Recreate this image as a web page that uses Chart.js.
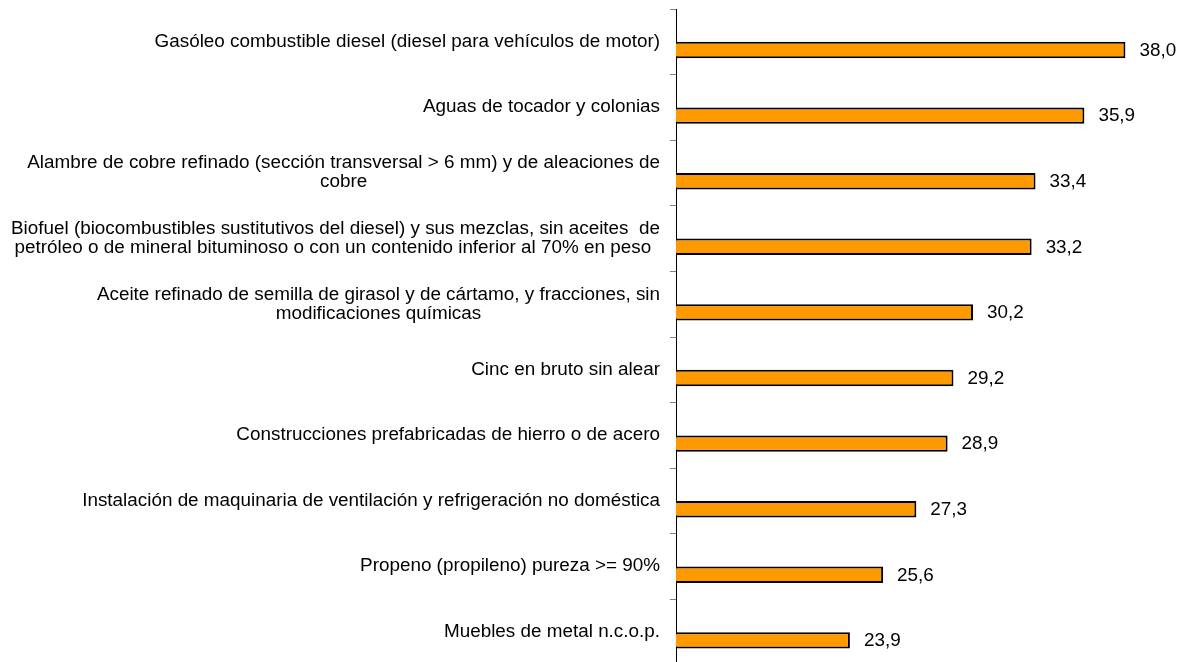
<!DOCTYPE html>
<html>
<head>
<meta charset="utf-8">
<script src="https://cdn.jsdelivr.net/npm/chart.js@4/dist/chart.umd.min.js"></script>
<style>
html,body{margin:0;padding:0;background:#fff;overflow:hidden;}
#wrap{position:relative;width:1181px;height:666px;}
</style>
</head>
<body>
<div id="wrap"><canvas id="c"></canvas></div>
<script>
const categories = [
  "Gasóleo combustible diesel (diesel para vehículos de motor)",
  "Aguas de tocador y colonias",
  ["Alambre de cobre refinado (sección transversal > 6 mm) y de aleaciones de", "cobre"],
  ["Biofuel (biocombustibles sustitutivos del diesel) y sus mezclas, sin aceites  de", "petróleo o de mineral bituminoso o con un contenido inferior al 70% en peso "],
  ["Aceite refinado de semilla de girasol y de cártamo, y fracciones, sin", "modificaciones químicas"],
  "Cinc en bruto sin alear",
  "Construcciones prefabricadas de hierro o de acero",
  "Instalación de maquinaria de ventilación y refrigeración no doméstica",
  "Propeno (propileno) pureza >= 90%",
  "Muebles de metal n.c.o.p."
];
const values = [38.0, 35.9, 33.4, 33.2, 30.2, 29.2, 28.9, 27.3, 25.6, 23.9];
const emptySeries = [null, null, null, null, null, null, null, null, null, null];
const axisMin = 15;
const axisMax = 40;

const FONT = '17.5px "Liberation Sans", Arial, sans-serif';
const STRETCH = 1.078;
const LINE_H = 19;

function drawText(ctx, text, x, y, align) {
  ctx.save();
  ctx.translate(x, y);
  ctx.scale(STRETCH, 1);
  ctx.textAlign = align;
  ctx.fillText(text, 0, 0);
  ctx.restore();
}

const labelPlugin = {
  id: 'customLabels',
  afterDraw(chart) {
    const ctx = chart.ctx;
    const y = chart.scales.y;
    ctx.save();
    ctx.font = FONT;
    ctx.fillStyle = '#000';
    ctx.textBaseline = 'middle';
    const right = chart.chartArea.left - 16;
    categories.forEach((lab, i) => {
      const lines = Array.isArray(lab) ? lab : [lab];
      const w = Math.max(...lines.map(l => ctx.measureText(l).width)) * STRETCH;
      const cx = right - w / 2;
      const py = y.getPixelForTick(i);
      const top = py - (lines.length - 1) * LINE_H / 2;
      lines.forEach((l, k) => drawText(ctx, l, cx, top + k * LINE_H, 'center'));
    });
    const meta = chart.getDatasetMeta(1);
    meta.data.forEach((el, i) => {
      drawText(ctx, values[i].toFixed(1).replace('.', ','), el.x + 14, el.y + 1, 'left');
    });
    ctx.restore();
  }
};

new Chart(document.getElementById('c'), {
  type: 'bar',
  data: {
    labels: categories,
    datasets: [
      { data: emptySeries, backgroundColor: '#FF9900' },
      { data: values, backgroundColor: '#FF9900', borderColor: '#000', borderWidth: 2, borderSkipped: false }
    ]
  },
  options: {
    indexAxis: 'y',
    responsive: true,
    maintainAspectRatio: false,
    animation: false,
    categoryPercentage: 0.5,
    barPercentage: 1,
    layout: { padding: { top: 9, right: 16.5, bottom: 1, left: 0 } },
    plugins: { legend: { display: false }, tooltip: { enabled: false } },
    scales: {
      x: { type: 'linear', min: axisMin, max: axisMax, display: false },
      y: {
        type: 'category',
        grid: { offset: true, drawOnChartArea: false, drawTicks: true, tickLength: 6, color: '#808080', lineWidth: 1 },
        border: { display: true, color: '#000', width: 1 },
        ticks: { display: false },
        afterFit(s) { s.width = 676; }
      }
    }
  },
  plugins: [labelPlugin]
});
</script>
</body>
</html>
